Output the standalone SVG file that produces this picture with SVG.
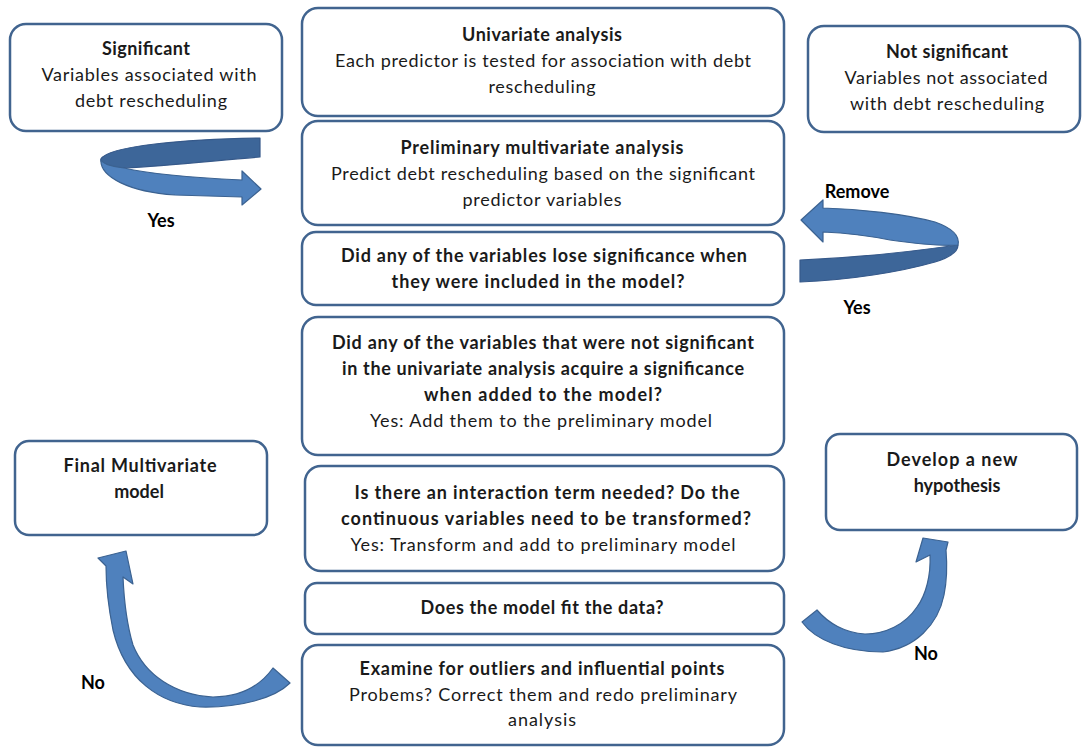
<svg xmlns="http://www.w3.org/2000/svg" width="1083" height="747" viewBox="0 0 1083 747">
  <style>
    .box { fill: #ffffff; stroke: #41648f; stroke-width: 2.5; }
    text { font-family: Lato, "Open Sans", "Liberation Sans", sans-serif; font-size: 18px; fill: #1a1a1a; text-anchor: middle; }
    .b { font-weight: bold; }
    .lbl { font-weight: bold; fill: #000000; }
    .front { fill: #4f81bd; stroke: #3b6291; stroke-width: 1.2; stroke-linejoin: round; }
    .back { fill: #3d6699; stroke: #36598a; stroke-width: 1.2; stroke-linejoin: round; }
  </style>

  <!-- process boxes -->
  <g id="significant">
    <rect class="box" x="10" y="24" width="272" height="107" rx="16"/>
    <text class="b" x="146" y="55" textLength="88">Significant</text>
    <text x="149" y="81" textLength="215">Variables associated with</text>
    <text x="151" y="107" textLength="152">debt rescheduling</text>
  </g>
  <g id="univariate">
    <rect class="box" x="302" y="8" width="482" height="108" rx="16"/>
    <text class="b" x="542" y="41" textLength="160">Univariate analysis</text>
    <text x="543" y="67" textLength="416">Each predictor is tested for association with debt</text>
    <text x="542" y="93" textLength="107">rescheduling</text>
  </g>
  <g id="not-significant">
    <rect class="box" x="808" y="26" width="272" height="106" rx="16"/>
    <text class="b" x="947" y="58" textLength="122">Not significant</text>
    <text x="946" y="84" textLength="203">Variables not associated</text>
    <text x="947" y="110" textLength="194">with debt rescheduling</text>
  </g>
  <g id="preliminary">
    <rect class="box" x="302" y="121" width="482" height="104" rx="16"/>
    <text class="b" x="542" y="154" textLength="283">Preliminary multivariate analysis</text>
    <text x="543" y="180" textLength="424">Predict debt rescheduling based on the significant</text>
    <text x="542" y="206" textLength="159">predictor variables</text>
  </g>
  <g id="lose-significance">
    <rect class="box" x="302" y="232" width="482" height="73" rx="14"/>
    <text class="b" x="544" y="262" textLength="406">Did any of the variables lose significance when</text>
    <text class="b" x="538" y="288" textLength="293">they were included in the model?</text>
  </g>
  <g id="acquire-significance">
    <rect class="box" x="302" y="317" width="482" height="138" rx="16"/>
    <text class="b" x="543" y="349" textLength="422">Did any of the variables that were not significant</text>
    <text class="b" x="543" y="375" textLength="402">in the univariate analysis acquire a significance</text>
    <text class="b" x="543" y="401" textLength="238">when added to the model?</text>
    <text x="541" y="427" textLength="342">Yes: Add them to the preliminary model</text>
  </g>
  <g id="interaction">
    <rect class="box" x="305" y="466" width="479" height="105" rx="16"/>
    <text class="b" x="547" y="499" textLength="385">Is there an interaction term needed? Do the</text>
    <text class="b" x="546" y="525" textLength="410">continuous variables need to be transformed?</text>
    <text x="543" y="551" textLength="385">Yes: Transform and add to preliminary model</text>
  </g>
  <g id="model-fit">
    <rect class="box" x="305" y="583" width="479" height="51" rx="12"/>
    <text class="b" x="542" y="614" textLength="243">Does the model fit the data?</text>
  </g>
  <g id="outliers">
    <rect class="box" x="302" y="645" width="482" height="100" rx="16"/>
    <text class="b" x="542" y="675" textLength="365">Examine for outliers and influential points</text>
    <text x="543" y="701" textLength="388">Probems? Correct them and redo preliminary</text>
    <text x="542" y="726" textLength="68">analysis</text>
  </g>
  <g id="final-model">
    <rect class="box" x="15" y="441" width="252" height="94" rx="14"/>
    <text class="b" x="140" y="472" textLength="153">Final Multivariate</text>
    <text class="b" x="139" y="498">model</text>
  </g>
  <g id="new-hypothesis">
    <rect class="box" x="826" y="434" width="251" height="96" rx="14"/>
    <text class="b" x="952" y="466" textLength="131">Develop a new</text>
    <text class="b" x="957" y="492">hypothesis</text>
  </g>

  <!-- curved block arrows and their labels -->
  <g id="connectors">
    <!-- significant -> preliminary model -->
    <path class="back" d="M260,138 C185,139 108,146 101,159 C100,166 110,168 124,168 C170,166 220,160 260,157 Z"/>
    <path class="front" d="M101,159 C99,177 130,192 175,195 L242,197 L242,205 L261,189 L242,171 L242,180 C200,178 150,174 124,168 C110,166 102,164 101,159 Z"/>
    <text class="lbl" x="161" y="227">Yes</text>

    <!-- lost significance -> remove -->
    <path class="back" d="M958,245 C958,252 948,258 935,262 C900,272 850,280 800,282 L800,260 C850,258 910,252 958,245 Z"/>
    <path class="front" d="M823,208 C860,209 905,214 935,222 C952,228 960,236 958,245 C945,246 925,245 890,240 C870,236 845,233 823,232 L823,242 L801,220 L823,200 Z"/>
    <text class="lbl" x="857" y="198">Remove</text>
    <text class="lbl" x="857" y="314">Yes</text>

    <!-- model does not fit -> final model -->
    <path class="front" d="M290,683 C275,698 240,708 200,707 C160,704 125,680 113,630 C108,605 106,585 106,566 L98,558 L126,551 L133,584 L123,577 C124,600 127,625 133,645 C145,675 175,695 213,697 C240,697 260,686 273,668 Z"/>
    <text class="lbl" x="93" y="689">No</text>

    <!-- model does not fit -> new hypothesis -->
    <path class="front" d="M802,622 C815,640 845,652 883,652 C915,648 938,625 944,595 C947,580 947,562 946,550 L948,542 L923,538 L916,562 L930,555 C931,575 926,595 917,607 C905,625 885,634 865,634 C845,633 828,623 817,610 Z"/>
    <text class="lbl" x="926" y="660">No</text>
  </g>
</svg>
